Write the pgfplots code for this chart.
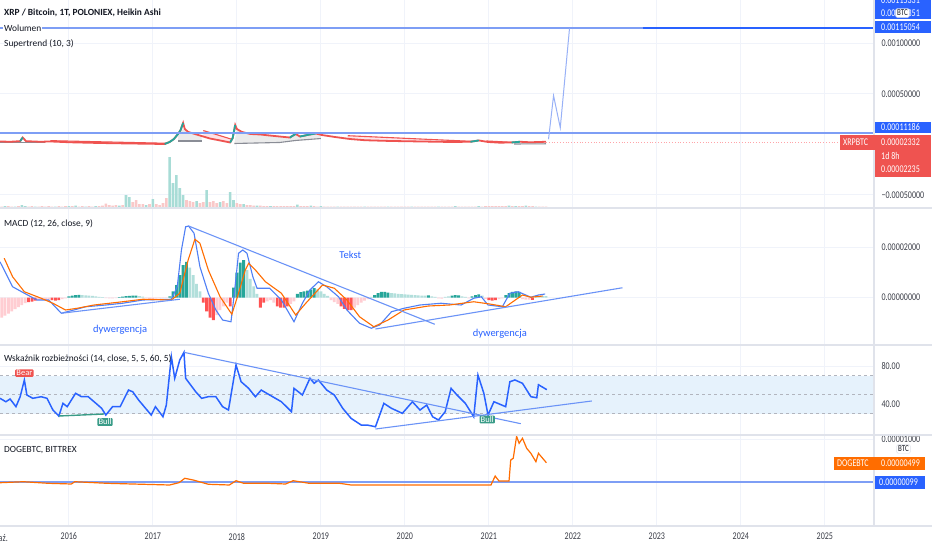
\documentclass[border=0pt]{standalone}
\usepackage{fontspec}
\setmainfont{Carlito}
\newfontfamily\scalef[FakeStretch=0.78]{Carlito}
\usepackage{pgfplots}
\pgfplotsset{compat=1.18}
\definecolor{tvblue}{HTML}{2962FF}
\definecolor{macdblue}{HTML}{4F7FF5}
\definecolor{tvorange}{HTML}{FF6D00}
\definecolor{tvred}{HTML}{EF5350}
\definecolor{histred}{HTML}{FF5252}
\definecolor{tvteal}{HTML}{26A69A}
\definecolor{ltteal}{HTML}{B2DFDB}
\definecolor{ltred}{HTML}{FFCDD2}
\definecolor{volteal}{HTML}{A8DCD6}
\definecolor{volpink}{HTML}{F9C9C9}
\definecolor{drawblue}{HTML}{6B93F7}
\definecolor{hlinecol}{HTML}{7E9EF5}
\definecolor{gridc}{HTML}{F0F3FA}
\definecolor{sepc}{HTML}{E0E3EB}
\definecolor{txt}{HTML}{131722}
\definecolor{scaletxt}{HTML}{3B3E48}
\definecolor{bandc}{HTML}{E6F2FC}
\definecolor{bandline}{HTML}{B2B5BE}
\definecolor{stgrey}{HTML}{8A8D96}
\definecolor{bullc}{HTML}{3A9C88}
\newcommand\tvf{\fontsize{9.4}{11}\selectfont}
\newcommand\tvs{\scalef\fontsize{10.3}{11}\selectfont}
\pgfplotsset{
  tvpanel/.style={
    scale only axis, width=873pt, anchor=south west,
    xmin=2015.18, xmax=2025.573,
    axis line style={draw=none},
    major tick length=0pt,
    xtick={2016,2017,2018,2019,2020,2021,2022,2023,2024,2025},
    xticklabels={},
    xmajorgrids, ymajorgrids,
    major grid style={gridc, line width=0.9pt},
    yticklabel pos=right,
    yticklabel style={font=\tvs, text=scaletxt, anchor=west, xshift=5pt},
  },
}
\begin{document}
\begin{tikzpicture}
\useasboundingbox (0,0) rectangle (932pt,550pt);
\fill[white] (0,0) rectangle (932pt,550pt);

% ---------------- Panel 1: price (units 1e-5 BTC) ----------------
\begin{axis}[tvpanel, at={(0pt,342pt)}, height=208pt, ymin=-63.0, ymax=142.7,
  ytick={-50,50,100}, yticklabels={−0.00050000,0.00050000,0.00100000}]
  % supertrend fills
  \addplot[fill=black!8, draw=none] coordinates {(2017.30,3.3) (2017.30,10.2) (2017.33,14.1) (2017.38,15.1) (2017.42,12.2) (2017.50,10.2) (2017.58,8.2) (2017.58,3.3)} -- cycle;
  \addplot[fill=black!8, draw=none] coordinates {(2017.97,0.8) (2018.00,15.1) (2018.06,12.2) (2018.16,10.2) (2018.28,9.7) (2018.39,8.7) (2018.51,7.7) (2018.63,6.7) (2018.70,10.2) (2018.75,7.7) (2018.87,9.7) (2018.94,10.7) (2019.00,9.2) (2019.00,5.7) (2018.70,3.8) (2018.51,1.8)} -- cycle;
  \addplot[fill=ltred, fill opacity=0.6, draw=none] coordinates {(2017.60,13.6) (2017.93,5.2) (2017.92,1.8) (2017.80,3.8) (2017.68,5.7) (2017.60,8.0)} -- cycle;
  \addplot[fill=ltred, fill opacity=0.5, draw=none] coordinates {(2015.78,3.6) (2017.17,1.0) (2017.14,0.3) (2016.73,0.8) (2016.25,1.5) (2015.78,2.8)} -- cycle;
  \addplot[fill=ltred, fill opacity=0.5, draw=none] coordinates {(2019.32,8.5) (2020.83,2.8) (2020.54,2.3) (2020.18,2.8) (2019.82,3.3) (2019.53,4.0) (2019.32,5.4)} -- cycle;
  % supertrend lines
  \addplot[tvred, line width=1.1pt] coordinates {(2015.78,3.6) (2017.17,1.0)};
  \addplot[tvred, line width=1.1pt] coordinates {(2017.60,13.6) (2017.93,5.2)};
  \addplot[tvred, line width=1.1pt] coordinates {(2019.32,8.5) (2020.83,2.8)};
  \addplot[tvred, line width=1.1pt] coordinates {(2020.97,3.3) (2021.27,2.0)};
  \addplot[stgrey, line width=1.1pt] coordinates {(2015.18,1.5) (2015.72,1.5)};
  \addplot[stgrey, line width=1.1pt] coordinates {(2017.30,3.3) (2017.58,3.3)};
  \addplot[stgrey, line width=1.1pt] coordinates {(2017.97,0.8) (2018.51,1.8) (2018.70,3.8) (2019.00,5.7)};
  \addplot[stgrey, line width=1.1pt] coordinates {(2021.30,0.3) (2021.68,0.5)};
  % Heikin Ashi closes
  \addplot[tvred, line width=1.8pt] coordinates {
    (2015.18,2.8) (2015.30,2.5) (2015.42,3.1) (2015.45,6.7) (2015.49,3.1) (2015.66,2.5)
    (2015.78,2.8) (2016.01,2.0) (2016.25,1.5) (2016.49,1.1) (2016.73,0.8) (2016.97,0.5)
    (2017.14,0.3) (2017.20,2.3) (2017.25,5.2) (2017.30,10.2) (2017.33,14.1) (2017.36,21.1)
    (2017.38,15.1) (2017.42,12.2) (2017.50,10.2) (2017.58,8.2) (2017.68,5.7) (2017.80,3.8)
    (2017.92,1.8) (2017.95,6.2) (2017.98,19.1) (2018.00,15.1) (2018.06,12.2) (2018.16,10.2)
    (2018.28,9.7) (2018.39,8.7) (2018.51,7.7) (2018.63,6.7) (2018.70,10.2) (2018.75,7.7)
    (2018.87,9.7) (2018.94,10.7) (2019.01,9.2) (2019.17,7.2) (2019.35,5.2) (2019.53,4.0)
    (2019.82,3.3) (2020.18,2.8) (2020.54,2.3) (2020.78,2.5) (2020.88,3.8) (2020.99,2.3)
    (2021.13,1.6) (2021.27,1.8) (2021.37,2.5) (2021.49,2.0) (2021.61,2.3) (2021.68,2.5)};
  \addplot[tvteal, line width=1.8pt] coordinates {(2015.42,3.1) (2015.45,6.7)};
  \addplot[tvteal, line width=1.8pt] coordinates {(2017.14,0.3) (2017.20,2.3) (2017.25,5.2) (2017.30,10.2) (2017.33,14.1) (2017.36,21.1)};
  \addplot[tvteal, line width=1.8pt] coordinates {(2017.92,1.8) (2017.95,6.2) (2017.98,19.1)};
  \addplot[tvteal, line width=1.8pt] coordinates {(2018.63,6.7) (2018.70,10.2)};
  \addplot[tvteal, line width=1.8pt] coordinates {(2018.75,7.7) (2018.87,9.7) (2018.94,10.7)};
  \addplot[tvteal, line width=1.8pt] coordinates {(2020.78,2.5) (2020.88,3.8)};
  \addplot[tvteal, line width=1.8pt] coordinates {(2021.27,1.8) (2021.37,2.5)};
  % horizontal drawings and last price
  \addplot[ltred!80!red, dotted, line width=0.8pt] coordinates {(2021.68,2.33) (2025.573,2.33)};
  \addplot[hlinecol, line width=1.3pt] coordinates {(2015.18,115.054) (2025.573,115.054)};
  \addplot[tvblue, line width=1.3pt] coordinates {(2022.83,115.054) (2025.573,115.054)};
  \addplot[hlinecol, line width=1.3pt] coordinates {(2015.18,11.186) (2025.573,11.186)};
  \addplot[hlinecol!80, line width=1pt] coordinates {(2021.71,5.0) (2021.77,48.1) (2021.85,16.4) (2021.96,114.7)};
\end{axis}

% ---------------- Volume overlay ----------------
\begin{axis}[tvpanel, at={(0pt,342pt)}, height=208pt, ymin=0, ymax=208, ytick=\empty,
  xmajorgrids=false, ymajorgrids=false]
  \addplot[ybar, bar width=2.6pt, bar shift=0pt, fill=volpink, draw=none] coordinates {
    (2015.20,1.5) (2015.28,2) (2015.32,1.5) (2015.40,2) (2015.52,1.5) (2015.56,2) (2015.64,1.5)
    (2015.68,2) (2015.72,1.5) (2015.76,2) (2015.80,1.5) (2015.88,2) (2015.92,1.5) (2015.96,2)
    (2016.04,2) (2016.12,1.5) (2016.16,2) (2016.24,2) (2016.28,1.5) (2016.36,2) (2016.40,2.5)
    (2016.44,4.3) (2016.48,3) (2016.52,2.5) (2016.56,3) (2016.64,3) (2016.76,6) (2016.80,8)
    (2016.84,4) (2016.88,4) (2016.96,4) (2017.04,4) (2017.08,3) (2017.12,5) (2017.16,10)
    (2017.40,8) (2017.44,7) (2017.48,6) (2017.56,5) (2017.60,6) (2017.68,6) (2017.72,7)
    (2017.76,5) (2017.84,7) (2017.88,5) (2018.00,5) (2018.04,4) (2018.12,3) (2018.16,3)
    (2018.20,2.5) (2018.28,2.5) (2018.32,2) (2018.36,2) (2018.44,2) (2018.48,2) (2018.52,2)
    (2018.56,2) (2018.60,2) (2018.64,2) (2018.68,2) (2018.76,2) (2018.80,2) (2018.84,2)
    (2018.92,2) (2018.96,1.5) (2019.04,1.5) (2019.08,1.5) (2019.12,1.5) (2019.16,1.5)
    (2019.24,1.5) (2019.28,1.5) (2019.32,1.5) (2019.36,1.5) (2019.40,1.5) (2019.44,1.5)
    (2019.48,1.5) (2019.56,1.5) (2019.60,1.5) (2019.64,1.5) (2019.68,1.5) (2019.72,1.5)
    (2019.76,1.5) (2019.84,1.5) (2019.88,1.5) (2019.92,1.5) (2019.96,1.5) (2020.00,1.5)
    (2020.04,1.5) (2020.12,1.5) (2020.16,1.5) (2020.20,1.5) (2020.24,1.5) (2020.28,1.5)
    (2020.32,1.5) (2020.36,1.5) (2020.44,1.5) (2020.48,1.5) (2020.52,1.5) (2020.56,1.5)
    (2020.64,1.5) (2020.68,1.5) (2020.72,1.5) (2020.76,1.5) (2020.80,1.5) (2020.84,1.5)
    (2020.92,1.5) (2020.96,2) (2021.00,2) (2021.04,2) (2021.08,2) (2021.12,2) (2021.16,2)
    (2021.20,2) (2021.28,2) (2021.36,2) (2021.40,2) (2021.48,2) (2021.52,2) (2021.60,1.5)
    (2021.64,1.5) (2021.68,1.5)};
  \addplot[ybar, bar width=2.6pt, bar shift=0pt, fill=volteal, draw=none] coordinates {
    (2015.24,2) (2015.36,1.5) (2015.44,3) (2015.48,2) (2015.60,1.5) (2015.84,1.5) (2016.00,2)
    (2016.08,2.5) (2016.20,1.5) (2016.32,2) (2016.60,2.5) (2016.68,13) (2016.72,11) (2016.92,3)
    (2017.00,9) (2017.20,51) (2017.24,25) (2017.28,33) (2017.32,20) (2017.36,13) (2017.52,7)
    (2017.64,18) (2017.80,6) (2017.92,16) (2017.96,8) (2018.08,4) (2018.24,2.5) (2018.40,2)
    (2018.72,3.5) (2018.88,2.5) (2019.00,2) (2019.20,1.5) (2019.52,1.5) (2019.80,1.5)
    (2020.08,1.5) (2020.40,1.5) (2020.60,2) (2020.88,2) (2021.24,2.5) (2021.32,2) (2021.44,2.5)
    (2021.56,1.5)};
\end{axis}

% ---------------- Panel 2: MACD (units 1e-6) ----------------
\begin{axis}[tvpanel, at={(0pt,205pt)}, height=137pt, ymin=-19, ymax=35.8,
  ytick={0,20}, yticklabels={0.00000000,0.00002000}]
  \addplot[ybar, bar width=2.8pt, bar shift=0pt, fill=ltred, draw=none] coordinates {
    (2015.20,-8.0) (2015.24,-7.2) (2015.28,-6.4) (2015.32,-5.5) (2015.36,-4.6) (2015.40,-3.8)
    (2015.44,-3.0) (2015.48,-2.2) (2015.64,-1.0) (2015.68,-0.9) (2015.72,-0.8) (2015.76,-0.8)
    (2015.92,-0.6) (2015.96,-0.3) (2016.44,-0.2) (2016.48,-0.3) (2016.52,-0.3) (2016.56,-0.2)
    (2016.92,-0.3) (2016.96,-0.5) (2017.00,-0.5) (2017.04,-0.4) (2017.08,-0.3) (2017.12,-0.2)
    (2017.16,-0.2) (2017.76,-7) (2017.80,-5) (2017.84,-3.5) (2017.88,-2) (2018.36,-1.5)
    (2018.40,-1) (2018.44,-2) (2018.64,-2.5) (2018.68,-1.5) (2019.12,-1) (2019.16,-1.8)
    (2019.20,-2.5) (2019.40,-4) (2019.44,-3) (2019.48,-2) (2019.52,-1.2) (2019.56,-0.6)
    (2020.40,-0.3) (2020.44,-0.4) (2020.76,-0.3) (2020.96,-0.5) (2021.12,-0.6) (2021.16,-0.3)
    (2021.40,-0.6) (2021.44,-0.8) (2021.48,-0.8)};
  \addplot[ybar, bar width=2.8pt, bar shift=0pt, fill=histred, draw=none] coordinates {
    (2015.52,-1.8) (2015.56,-1.6) (2015.60,-1.2) (2015.80,-1.0) (2015.84,-1.2) (2015.88,-1.0)
    (2017.60,-2) (2017.64,-5.5) (2017.68,-8) (2017.72,-9) (2017.92,-3.5) (2018.28,-4)
    (2018.32,-2) (2018.48,-3.5) (2018.52,-4) (2018.56,-4) (2018.60,-3.5) (2019.24,-3.5)
    (2019.28,-4.5) (2019.32,-5) (2019.36,-5) (2021.00,-1.0) (2021.04,-1.2) (2021.08,-1.0)
    (2021.52,-0.9)};
  \addplot[ybar, bar width=2.8pt, bar shift=0pt, fill=ltteal, draw=none] coordinates {
    (2016.16,1.0) (2016.20,0.9) (2016.24,0.8) (2016.28,0.7) (2016.32,0.5) (2016.36,0.3)
    (2016.40,0.2) (2016.84,0.6) (2016.88,0.4) (2017.44,12) (2017.48,9) (2017.52,5.5)
    (2017.56,2.5) (2018.12,11) (2018.16,7.5) (2018.20,4.5) (2018.24,1.5) (2018.96,3.3)
    (2019.00,2.5) (2019.04,1.5) (2019.08,0.7) (2019.60,0.3) (2019.84,1.8) (2019.88,1.7)
    (2019.92,1.5) (2019.96,1.4) (2020.00,1.3) (2020.04,1.2) (2020.08,1.1) (2020.12,1.0)
    (2020.16,0.9) (2020.20,0.8) (2020.24,0.8) (2020.32,0.5) (2020.36,0.3) (2020.48,0.3)
    (2020.52,0.5) (2020.68,0.5) (2020.72,0.3) (2020.92,0.8) (2021.56,0.4) (2021.60,0.6)
    (2021.64,0.7) (2021.68,0.6)};
  \addplot[ybar, bar width=2.8pt, bar shift=0pt, fill=tvteal, draw=none] coordinates {
    (2016.00,0.5) (2016.04,0.8) (2016.08,1.0) (2016.12,1.1) (2016.60,0.2) (2016.64,0.4)
    (2016.68,0.6) (2016.72,0.7) (2016.76,0.8) (2016.80,0.8) (2017.20,0.5) (2017.24,2.5)
    (2017.28,5) (2017.32,9) (2017.36,13) (2017.40,14.3) (2017.96,4) (2018.00,10) (2018.04,14)
    (2018.08,15) (2018.72,1.5) (2018.76,2.2) (2018.80,2.5) (2018.84,2.8) (2018.88,3.2)
    (2018.92,3.8) (2019.64,1.0) (2019.68,1.8) (2019.72,2.3) (2019.76,2.3) (2019.80,2.0)
    (2020.28,0.9) (2020.56,0.8) (2020.60,1.0) (2020.64,0.9) (2020.80,0.5) (2020.84,1.0)
    (2020.88,1.3) (2021.20,1.0) (2021.24,1.8) (2021.28,2.3) (2021.32,2.5) (2021.36,2.3)};
  % MACD line
  \addplot[macdblue, line width=1.1pt] coordinates {
    (2015.18,14.3) (2015.33,4.3) (2015.47,1.7) (2015.62,-1.0) (2015.76,-1.0) (2015.91,-6.3)
    (2016.06,-5.0) (2016.20,-3.7) (2016.44,-3.0) (2016.64,-2.3) (2016.88,-1.0) (2017.22,-0.7)
    (2017.29,4.3) (2017.34,19.0) (2017.39,28.3) (2017.425,28.6) (2017.49,25.7) (2017.56,12.3)
    (2017.66,1.7) (2017.75,-5.0) (2017.83,-9.0) (2017.93,-9.7) (2017.97,1.7) (2018.02,17.7)
    (2018.07,19.0) (2018.12,17.7) (2018.19,8.3) (2018.24,3.7) (2018.39,3.7) (2018.53,-1.0)
    (2018.68,-9.7) (2018.78,-2.3) (2018.87,3.0) (2018.97,6.3) (2019.07,4.3) (2019.21,0.3)
    (2019.31,-5.0) (2019.46,-10.3) (2019.60,-12.3) (2019.70,-11.0) (2019.84,-5.7) (2019.99,-4.3)
    (2020.18,-3.0) (2020.43,-2.3) (2020.67,-3.0) (2020.82,-0.3) (2020.91,0.3) (2020.99,-3.0)
    (2021.16,-3.7) (2021.25,1.7) (2021.35,2.3) (2021.50,0.1) (2021.59,1.0) (2021.67,1.4)};
  % signal line
  \addplot[tvorange, line width=1.1pt] coordinates {
    (2015.23,15.7) (2015.33,8.3) (2015.47,2.3) (2015.67,-0.3) (2015.81,-2.3) (2015.96,-5.0)
    (2016.10,-4.3) (2016.30,-3.0) (2016.64,-1.7) (2016.88,-0.7) (2017.22,-1.0) (2017.32,1.7)
    (2017.42,15.0) (2017.50,23.3) (2017.56,21.7) (2017.66,11.0) (2017.80,0.3) (2017.94,-6.7)
    (2018.02,1.7) (2018.10,11.0) (2018.14,13.7) (2018.22,11.0) (2018.34,6.3) (2018.53,1.7)
    (2018.70,-7.0) (2018.82,-2.3) (2019.02,5.0) (2019.16,3.7) (2019.31,-1.0) (2019.46,-7.7)
    (2019.63,-11.7) (2019.80,-9.0) (2019.99,-5.0) (2020.28,-3.4) (2020.53,-3.0) (2020.82,-1.7)
    (2021.01,-2.6) (2021.20,-3.7) (2021.40,1.0) (2021.50,0.1) (2021.64,0.6)};
  % drawings
  \addplot[drawblue, line width=1.1pt] coordinates {(2017.425,28.6) (2020.355,-10.7)};
  \addplot[drawblue, line width=1.1pt] coordinates {(2015.91,-6.3) (2017.32,-0.7)};
  \addplot[drawblue, line width=1.1pt] coordinates {(2019.65,-12.6) (2022.59,3.9)};
  \node[text=tvblue, font=\fontsize{10.5}{12}\selectfont] at (axis cs:2019.35,17.0) {Tekst};
  \node[text=tvblue, font=\fontsize{10.5}{12}\selectfont] at (axis cs:2016.61,-12.8) {dywergencja};
  \node[text=tvblue, font=\fontsize{10.5}{12}\selectfont] at (axis cs:2021.13,-14.6) {dywergencja};
\end{axis}

% ---------------- Panel 3: divergence indicator ----------------
\begin{axis}[tvpanel, at={(0pt,115pt)}, height=90pt, ymin=7.4, ymax=102.1,
  ytick={40,80}, yticklabels={40.00,80.00}]
  \fill[bandc] (axis cs:2015.18,30) rectangle (axis cs:2025.573,70);
  \addplot[bandline, dashed, line width=0.6pt] coordinates {(2015.18,70) (2025.573,70)};
  \addplot[bandline, dashed, line width=0.6pt] coordinates {(2015.18,50) (2025.573,50)};
  \addplot[bandline, dashed, line width=0.6pt] coordinates {(2015.18,30) (2025.573,30)};
  \addplot[tvblue, line width=1.5pt] coordinates {
    (2015.18,46.0) (2015.25,42.4) (2015.30,45.3) (2015.37,37.2) (2015.42,47.7) (2015.47,65.3)
    (2015.50,49.5) (2015.57,46.0) (2015.67,47.7) (2015.74,46.0) (2015.81,33.7) (2015.88,27.4)
    (2015.93,40.7) (2015.98,37.2) (2016.08,51.3) (2016.15,47.7) (2016.23,47.7) (2016.30,42.4)
    (2016.39,35.5) (2016.44,28.4) (2016.52,37.2) (2016.61,37.2) (2016.71,54.7) (2016.76,52.9)
    (2016.83,44.2) (2016.93,33.7) (2016.98,28.4) (2017.03,37.2) (2017.12,26.6) (2017.16,38.9)
    (2017.22,89.8) (2017.26,67.1) (2017.32,86.3) (2017.37,94.4) (2017.39,67.1) (2017.51,52.9)
    (2017.58,46.0) (2017.66,47.7) (2017.75,47.7) (2017.83,37.2) (2017.90,33.7) (2017.95,60.0)
    (2017.99,81.1) (2018.05,63.5) (2018.14,56.5) (2018.22,47.7) (2018.29,54.7) (2018.39,49.5)
    (2018.53,42.4) (2018.65,31.9) (2018.68,56.5) (2018.78,49.5) (2018.87,67.1) (2018.92,61.8)
    (2018.97,65.3) (2019.07,54.7) (2019.16,49.5) (2019.26,35.5) (2019.36,24.9) (2019.48,17.9)
    (2019.55,17.9) (2019.65,16.1) (2019.75,40.7) (2019.84,35.5) (2019.97,30.2) (2020.09,42.4)
    (2020.18,33.7) (2020.26,38.9) (2020.33,26.6) (2020.40,23.2) (2020.48,31.9) (2020.55,56.5)
    (2020.62,49.5) (2020.72,40.7) (2020.82,26.6) (2020.87,70.5) (2020.94,51.3) (2020.99,28.4)
    (2021.06,42.4) (2021.20,37.2) (2021.25,63.5) (2021.31,65.3) (2021.40,61.8) (2021.50,47.7)
    (2021.57,46.6) (2021.59,60.3) (2021.69,55.1)};
  \addplot[drawblue, line width=1.1pt] coordinates {(2017.37,94.4) (2021.38,19.3)};
  \addplot[drawblue, line width=1.1pt] coordinates {(2019.65,13.7) (2022.225,43.2)};
  \addplot[bullc, line width=1.4pt] coordinates {(2015.88,27.4) (2016.42,29.5)};
  \node[fill=tvred, text=white, font=\fontsize{8.5}{9}\selectfont, inner xsep=1.2pt, inner ysep=1pt, rounded corners=1pt] at (axis cs:2015.47,72.6) {Bear};
  \node[fill=bullc, text=white, font=\fontsize{8.5}{9}\selectfont, inner xsep=1.2pt, inner ysep=1pt, rounded corners=1pt] at (axis cs:2016.43,21.1) {Bull};
  \node[fill=bullc, text=white, font=\fontsize{8.5}{9}\selectfont, inner xsep=1.2pt, inner ysep=1pt, rounded corners=1pt] at (axis cs:2020.98,23.7) {Bull};
\end{axis}

% ---------------- Panel 4: DOGEBTC (units 1e-6) ----------------
\begin{axis}[tvpanel, at={(0pt,23pt)}, height=92pt, ymin=-8.48, ymax=10.88,
  ytick={10}, yticklabels={0.00001000},
  xticklabels={2016,2017,2018,2019,2020,2021,2022,2023,2024,2025},
  xticklabel style={font=\tvs, text=scaletxt, yshift=-2.5pt}]
  \addplot[hlinecol, line width=1.3pt] coordinates {(2015.18,0.99) (2025.573,0.99)};
  \addplot[tvorange, line width=1.2pt] coordinates {
    (2015.18,0.84) (2015.46,1.05) (2015.75,0.72) (2016.03,0.57) (2016.07,1.05) (2016.45,0.72)
    (2016.88,0.51) (2017.20,0.36) (2017.31,0.84) (2017.38,1.77) (2017.48,1.41) (2017.66,0.51)
    (2017.91,0.36) (2017.99,1.26) (2018.08,0.72) (2018.37,0.72) (2018.58,0.57) (2018.67,1.26)
    (2018.86,0.72) (2019.22,0.72) (2019.36,0.36) (2020.14,0.36) (2021.025,0.36) (2021.075,2.25)
    (2021.12,1.20) (2021.24,1.20) (2021.26,5.62) (2021.29,5.98) (2021.33,10.6) (2021.36,9.14)
    (2021.40,10.19) (2021.45,8.08) (2021.50,7.03) (2021.56,5.26) (2021.59,7.03) (2021.64,5.98)
    (2021.685,5.05)};
\end{axis}

% ---------------- separators ----------------
\draw[sepc, line width=1.2pt] (0,342pt) -- (932pt,342pt);
\draw[sepc, line width=1.2pt] (0,205pt) -- (932pt,205pt);
\draw[sepc, line width=1.2pt] (0,115pt) -- (932pt,115pt);
\draw[sepc, line width=1.2pt] (0,24pt) -- (932pt,24pt);
\draw[sepc, line width=1.2pt] (874pt,24pt) -- (874pt,550pt);

% ---------------- legends ----------------
\node[anchor=west, text=txt, font=\tvf\bfseries, inner sep=1pt] at (3pt,537pt) {XRP / Bitcoin, 1T, POLONIEX, Heikin Ashi};
\node[anchor=west, text=txt, font=\tvf, fill=white, inner sep=1pt] at (3pt,522pt) {Wolumen};
\node[anchor=west, text=txt, font=\tvf, inner sep=1pt] at (3pt,506pt) {Supertrend (10, 3)};
\node[anchor=west, text=txt, font=\tvf, inner sep=1pt] at (3pt,326pt) {MACD (12, 26, close, 9)};
\node[anchor=west, text=txt, font=\tvf, inner sep=1pt] at (3pt,191pt) {Wskaźnik rozbieżności (14, close, 5, 5, 60, 5)};
\node[anchor=west, text=txt, font=\tvf, inner sep=1pt] at (3pt,100pt) {DOGEBTC, BITTREX};
\node[anchor=east, text=scaletxt, font=\tvs, inner sep=0pt] at (8pt,11.5pt) {paź.};

% ---------------- price-scale tags ----------------
\fill[tvblue] (875pt,531pt) rectangle (931pt,553pt);
\node[anchor=west, text=white, font=\tvs, inner sep=0pt] at (881pt,550pt) {0.00115331};
\node[anchor=west, text=white, font=\tvs, inner sep=0pt] at (881pt,537pt) {0.00115351};
\node[fill=white, draw=sepc, rounded corners=1.5pt, text=txt, font=\scalef\fontsize{9}{9}\selectfont, inner xsep=1.5pt, inner ysep=1.5pt] at (902.5pt,537pt) {BTC};
\fill[tvblue] (875pt,516.7pt) rectangle (931pt,529.3pt);
\node[anchor=west, text=white, font=\tvs, inner sep=0pt] at (881pt,523pt) {0.00115054};
\fill[tvblue] (875pt,416.7pt) rectangle (931pt,428.3pt);
\node[anchor=west, text=white, font=\tvs, inner sep=0pt] at (881pt,422.5pt) {0.00011186};
\fill[tvred] (875pt,373.3pt) rectangle (931pt,415pt);
\fill[tvred] (840pt,400pt) rectangle (875pt,415pt);
\node[anchor=west, text=white, font=\tvs, inner sep=0pt] at (843pt,407.5pt) {XRPBTC};
\node[anchor=west, text=white, font=\tvs, inner sep=0pt] at (881pt,407.5pt) {0.00002332};
\node[anchor=west, text=white, font=\tvs, inner sep=0pt] at (881pt,394.3pt) {1d 8h};
\node[anchor=west, text=white, font=\tvs, inner sep=0pt] at (881pt,380.5pt) {0.00002235};
\node[fill=white, draw=sepc, rounded corners=1.5pt, text=txt, font=\scalef\fontsize{9}{9}\selectfont, inner xsep=1.5pt, inner ysep=1.5pt] at (903.5pt,101pt) {BTC};
\fill[tvorange] (834pt,80pt) rectangle (925pt,93.3pt);
\node[anchor=west, text=white, font=\tvs, inner sep=0pt] at (837pt,86.7pt) {DOGEBTC};
\node[anchor=west, text=white, font=\tvs, inner sep=0pt] at (881pt,86.7pt) {0.00000499};
\fill[tvblue] (875pt,61pt) rectangle (925pt,74.3pt);
\node[anchor=west, text=white, font=\tvs, inner sep=0pt] at (879pt,67.7pt) {0.00000099};
\end{tikzpicture}
\end{document}
